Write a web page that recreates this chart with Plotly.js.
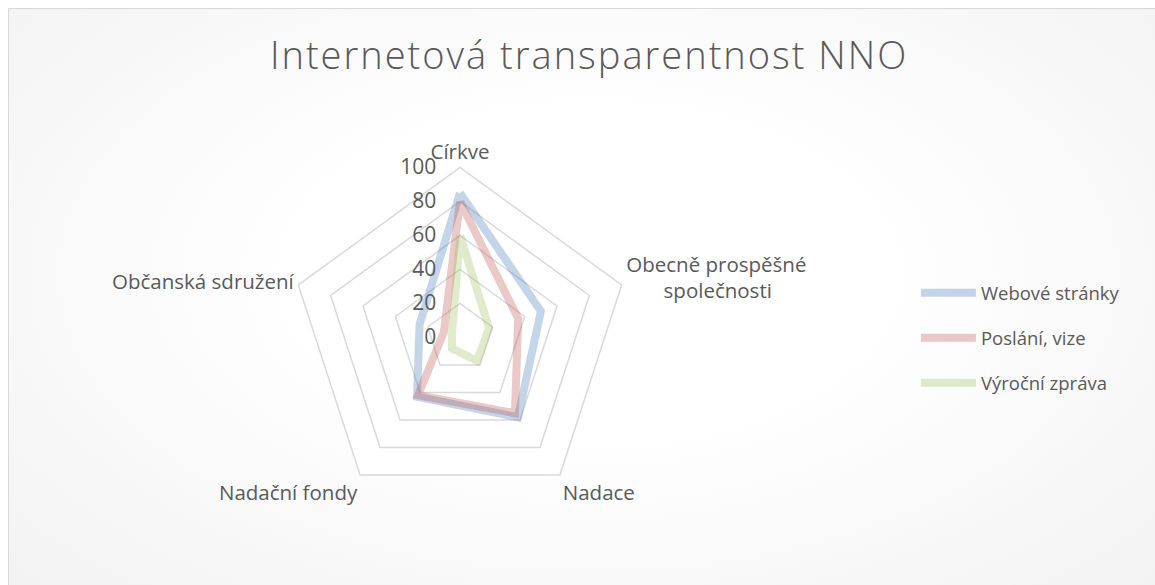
<!DOCTYPE html>
<html>
<head>
<meta charset="utf-8">
<script src="https://cdn.plot.ly/plotly-3.0.1.min.js"></script>
<style>
  html, body { margin: 0; padding: 0; background: #ffffff; }
  #frame {
    position: absolute; left: 8px; top: 8px; width: 1160px; height: 590px;
    border: 1px solid #d9d9d9;
    background: radial-gradient(ellipse at 50% 45%, #ffffff 35%, #f2f2f2 100%);
  }
  #chart { position: absolute; left: 0; top: 0; width: 1155px; height: 585px; }
  #chart .gtitle { letter-spacing: 2px; }
</style>
</head>
<body>
<div id="frame"></div>
<div id="chart"></div>
<script>
const categories = ["Církve", "Obecně prospěšné<br>\u00a0\u00a0\u00a0\u00a0\u00a0\u00a0\u00a0společnosti", "Nadace", "Nadační fondy", "Občanská sdružení"];
const seriesNames = ["Webové stránky", "Poslání, vize", "Výroční zpráva"];
const webove = [85, 50, 58, 43, 25];
const poslani = [80, 36, 55, 42, 10];
const vyrocni = [60, 18, 17, 8, 5];
const radialTicks = [0, 20, 40, 60, 80, 100];

const colors = ["rgba(79,129,189,0.33)", "rgba(192,80,77,0.31)", "rgba(155,187,89,0.31)"];
const values = [webove, poslani, vyrocni];

const traces = values.map((v, i) => ({
  type: "scatterpolar",
  r: v.concat([v[0]]),
  theta: categories.concat([categories[0]]),
  mode: "lines",
  name: seriesNames[i],
  legendgroup: "g" + i,
  line: { color: colors[i], width: 8 },
  hoverinfo: "skip"
}));

const layout = {
  width: 1155, height: 585,
  margin: { l: 0, r: 0, t: 0, b: 0 },
  paper_bgcolor: "rgba(0,0,0,0)",
  plot_bgcolor: "rgba(0,0,0,0)",
  font: { family: "Open Sans, sans-serif", color: "#595959", size: 20 },
  title: {
    text: "Internetová transparentnost NNO",
    font: { family: "Open Sans, sans-serif", size: 38, color: "#595959", weight: 300 },
    x: 0.510, xanchor: "center", y: 0.905, yanchor: "middle"
  },
  showlegend: true,
  legend: {
    x: 0.793, y: 0.422, xanchor: "left", yanchor: "middle",
    font: { size: 18.5, color: "#595959" },
    itemwidth: 55,
    tracegroupgap: 18,
    bgcolor: "rgba(0,0,0,0)"
  },
  polar: {
    domain: { x: [290/1155, 630/1155], y: [77.5/585, 417.5/585] },
    bgcolor: "#ffffff",
    gridshape: "linear",
    angularaxis: {
      direction: "clockwise",
      rotation: 90,
      showgrid: false,
      showline: true,
      linecolor: "#d9d9d9",
      linewidth: 1.5,
      ticks: "",
      tickfont: { size: 20.5, color: "#595959" }
    },
    radialaxis: {
      range: [0, 100],
      tickvals: radialTicks,
      ticktext: radialTicks.map(String),
      angle: 90,
      side: "counterclockwise",
      tickangle: 90,
      showline: false,
      ticks: "outside",
      ticklen: 16,
      tickcolor: "rgba(0,0,0,0)",
      gridcolor: "#d9d9d9",
      gridwidth: 1.5,
      tickfont: { size: 21, color: "#595959" }
    }
  }
};

Plotly.newPlot("chart", traces, layout, { staticPlot: true });
</script>
</body>
</html>
